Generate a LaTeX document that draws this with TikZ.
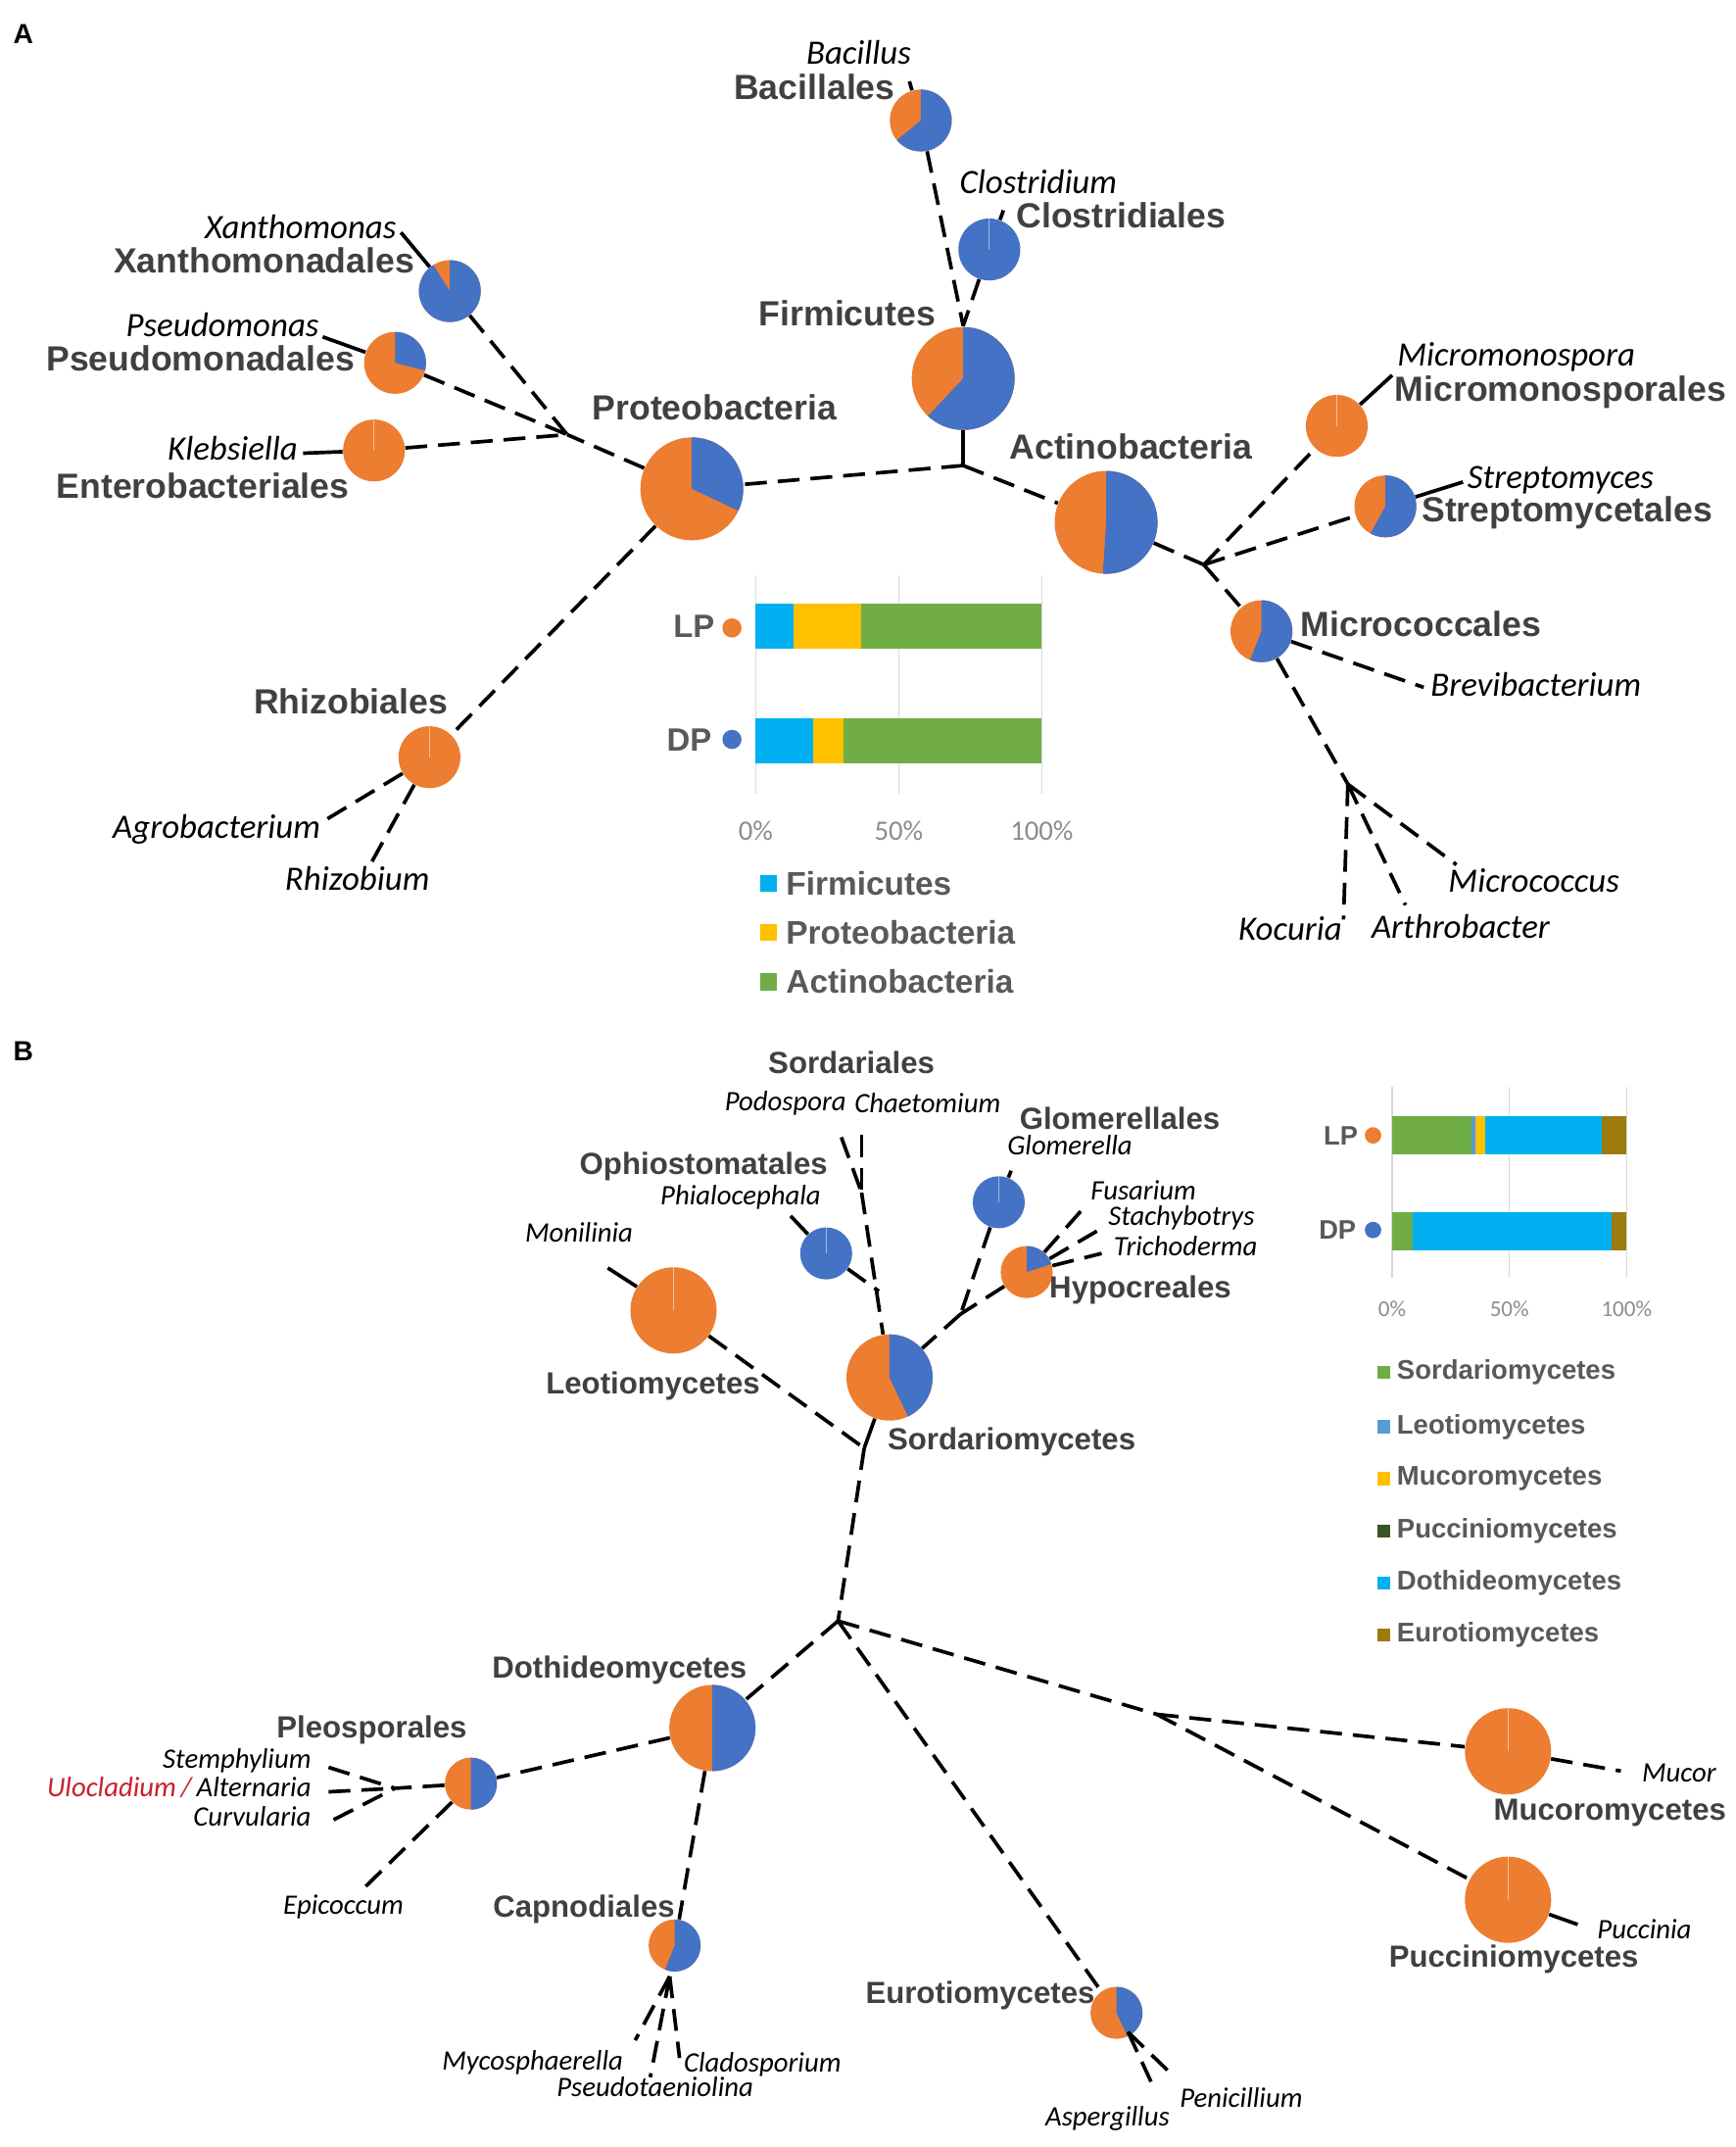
\documentclass[tikz,border=0pt]{standalone}
\usepackage{fontspec}
\setmainfont{Liberation Sans}
\newfontfamily\genusfont{Carlito}
\usetikzlibrary{positioning}

\definecolor{pieorange}{HTML}{ED7D31}
\definecolor{pieblue}{HTML}{4472C4}
\definecolor{labgray}{HTML}{404040}
\definecolor{leggray}{HTML}{595959}
\definecolor{tickgray}{HTML}{8C8C8C}
\definecolor{gridgray}{HTML}{D9D9D9}
\definecolor{firmcol}{HTML}{00B0F0}
\definecolor{protcol}{HTML}{FFC000}
\definecolor{actcol}{HTML}{70AD47}
\definecolor{leocol}{HTML}{5B9BD5}
\definecolor{puccol}{HTML}{375623}
\definecolor{eurcol}{HTML}{9C7A0C}
\definecolor{ulored}{HTML}{C8202A}

% blue share of a pie, clockwise from 12 o'clock
\newcommand{\bluewedge}[3]{\fill[pieblue] (#1.center) -- ++(90:#2) arc[start angle=90, delta angle=-3.6*#3, radius=#2] -- cycle;}

\begin{document}
\begin{tikzpicture}[x=0.2mm, y=-0.2mm,
	bigpie/.style={circle, inner sep=0pt, fill=pieorange, minimum size=15.04mm},
	smallpie/.style={circle, inner sep=0pt, fill=pieorange, minimum size=9.04mm},
	bigpieb/.style={circle, inner sep=0pt, fill=pieorange, minimum size=12.6mm},
	smallpieb/.style={circle, inner sep=0pt, fill=pieorange, minimum size=7.6mm},
	allblue/.style={fill=pieblue},
	seam/.style={draw=white, line width=0.5pt, opacity=.5},
	branch/.style={line width=1.5pt, dash pattern=on 3.2mm off 1.6mm},
	stub/.style={line width=1.5pt},
	panel/.style={inner sep=0pt, font=\fontsize{11.5}{13}\selectfont\bfseries},
	ordA/.style={inner sep=0pt, text=labgray, text height=10.6pt, text depth=2.6pt, font=\fontsize{14.5}{17}\selectfont\bfseries},
	genA/.style={inner sep=0pt, text height=10pt, text depth=2.6pt, font=\genusfont\itshape\fontsize{14.2}{17}\selectfont},
	ordB/.style={inner sep=0pt, text=labgray, text height=9.3pt, text depth=2.5pt, font=\fontsize{12.7}{15}\selectfont\bfseries},
	genB/.style={inner sep=0pt, text height=8.3pt, text depth=2.3pt, font=\genusfont\itshape\fontsize{11.7}{14}\selectfont},
	grid/.style={draw=gridgray, line width=0.6pt},
	dot/.style={circle, inner sep=0pt},
	lpA/.style={inner sep=0pt, text=leggray, font=\fontsize{13.4}{16}\selectfont\bfseries},
	lpB/.style={inner sep=0pt, text=leggray, font=\fontsize{11.1}{13}\selectfont\bfseries},
	tickA/.style={inner sep=0pt, text=tickgray, font=\genusfont\fontsize{11.7}{14}\selectfont},
	tickB/.style={inner sep=0pt, text=tickgray, font=\genusfont\fontsize{9.4}{11}\selectfont},
	legsqA/.style={inner sep=0pt, minimum size=2.5mm},
	legsqB/.style={inner sep=0pt, minimum size=1.9mm},
	legA/.style={inner sep=0pt, text=leggray, font=\fontsize{13.6}{16}\selectfont\bfseries},
	legB/.style={inner sep=0pt, text=leggray, font=\fontsize{11.2}{13}\selectfont\bfseries}]

\useasboundingbox (0,0) rectangle (1268,1568);

%-------------------------------------------------------------------------------
% A - Bacteria
%-------------------------------------------------------------------------------
\node (panela) [panel] at (17,25) {A};

% Firmicutes
\node (firm) [bigpie] at (703.6,276.4) {};
\bluewedge{firm}{7.52mm}{62}
\node (firmlab) [ordA] at (619,231) {Firmicutes};

\node (bac) [smallpie] at (672.6,88) {};
\bluewedge{bac}{4.52mm}{64}
\node (baclab) [ordA] at (595,65.3) {Bacillales};
\node (bacgen) [genA] at (627.3,40.3) {Bacillus};

\node (clos) [smallpie,allblue] at (722.7,182.2) {};
\draw [seam] (clos.center) -- (clos.north);
\node (closlab) [ordA] at (819,159.6) {Clostridiales};
\node (closgen) [genA] at (758.5,134.5) {Clostridium};

\coordinate (jfirm)  at (703.6,238);
\coordinate (jroot)  at (703.6,340);
\coordinate (bacend) at (664.3,59.4);
\coordinate (closend) at (733,153.6);
\draw [stub] (bac) -- (bacend);
\draw [stub] (clos) -- (closend);
\draw [branch] (bac) -- (jfirm);
\draw [branch] (clos) -- (jfirm);
\draw [stub] (firm) -- (jroot);

% Proteobacteria
\node (proteo) [bigpie] at (505.4,357) {};
\bluewedge{proteo}{7.52mm}{32}
\node (proteolab) [ordA] at (522,299.5) {Proteobacteria};

\node (xanth) [smallpie] at (328.6,212.6) {};
\bluewedge{xanth}{4.52mm}{91}
\node (xanthlab) [ordA] at (192.9,192) {Xanthomonadales};
\node (xanthgen) [genA] at (219.6,167.5) {Xanthomonas};

\node (pseudo) [smallpie] at (288.6,265) {};
\bluewedge{pseudo}{4.52mm}{29}
\node (pseudolab) [ordA] at (146.4,263.5) {Pseudomonadales};
\node (pseudogen) [genA] at (162.5,239.5) {Pseudomonas};

\node (entero) [smallpie] at (273.2,329) {};
\draw [seam] (entero.center) -- (entero.north);
\node (enterolab) [ordA] at (148.2,357) {Enterobacteriales};
\node (enterogen) [genA] at (170,329.5) {Klebsiella};

\node (rhizo) [smallpie] at (313.7,553) {};
\draw [seam] (rhizo.center) -- (rhizo.north);
\node (rhizolab) [ordA] at (256.3,514.5) {Rhizobiales};
\node (agrogen) [genA] at (158.2,606) {Agrobacterium};
\node (rhizogen) [genA] at (261,644) {Rhizobium};

\coordinate (jprot)     at (414.3,317.4);
\coordinate (xanthend)  at (292.9,169.8);
\coordinate (pseudoend) at (235.7,246);
\coordinate (kleend)    at (221.4,331);
\coordinate (agroend)   at (232.4,602.1);
\coordinate (rhizobend) at (268.2,635.6);
\draw [branch] (jroot) -- (proteo);
\draw [branch] (proteo) -- (jprot);
\draw [branch] (xanth) -- (jprot);
\draw [branch] (pseudo) -- (jprot);
\draw [branch] (entero) -- (jprot);
\draw [stub] (xanth) -- (xanthend);
\draw [stub] (pseudo) -- (pseudoend);
\draw [stub] (entero) -- (kleend);
\draw [branch] (proteo) -- (rhizo);
\draw [branch] (rhizo) -- (agroend);
\draw [branch] (rhizo) -- (rhizobend);

% Actinobacteria
\node (actino) [bigpie] at (808,381.5) {};
\bluewedge{actino}{7.52mm}{51}
\node (actinolab) [ordA] at (826,328.6) {Actinobacteria};

\node (micromono) [smallpie] at (976.5,311) {};
\draw [seam] (micromono.center) -- (micromono.north);
\node (micromonolab) [ordA] at (1140,286) {Micromonosporales};
\node (micromonogen) [genA] at (1107.6,261) {Micromonospora};

\node (strepto) [smallpie] at (1012,369.8) {};
\bluewedge{strepto}{4.52mm}{58}
\node (streptolab) [ordA] at (1144.8,374) {Streptomycetales};
\node (streptogen) [genA] at (1140,350.6) {Streptomyces};

\node (micrococ) [smallpie] at (921.5,461) {};
\bluewedge{micrococ}{4.52mm}{56}
\node (micrococlab) [ordA] at (1038,458) {Micrococcales};
\node (brevigen) [genA] at (1122,502) {Brevibacterium};
\node (micrococcusgen) [genA] at (1120.5,645) {Micrococcus};
\node (arthrogen) [genA] at (1067,678.6) {Arthrobacter};
\node (kocuriagen) [genA] at (942.5,680) {Kocuria};

\coordinate (jact)    at (879.4,412.4);
\coordinate (jmic)    at (984.6,572.7);
\coordinate (micromonoend) at (1017,274);
\coordinate (streptoend)   at (1068.7,352);
\coordinate (brevend)  at (1040,502);
\coordinate (kocend)   at (981.4,671.5);
\coordinate (arthend)  at (1026.7,661);
\coordinate (mcocend)  at (1063.9,631.5);
\draw [branch] (jroot) -- (actino);
\draw [branch] (actino) -- (jact);
\draw [branch] (jact) -- (micromono);
\draw [branch] (jact) -- (strepto);
\draw [branch] (jact) -- (micrococ);
\draw [stub] (micromono) -- (micromonoend);
\draw [stub] (strepto) -- (streptoend);
\draw [branch] (micrococ) -- (brevend);
\draw [branch] (micrococ) -- (jmic);
\draw [branch] (jmic) -- (kocend);
\draw [branch] (jmic) -- (arthend);
\draw [branch] (jmic) -- (mcocend);

% bar chart A
\draw [grid] (552,420) -- (552,580);
\draw [grid] (656.5,420) -- (656.5,580);
\draw [grid] (761,420) -- (761,580);
\fill [firmcol] (552,440.5) rectangle (579.4,474);
\fill [protcol] (579.4,440.5) rectangle (629.2,474);
\fill [actcol] (629.2,440.5) rectangle (761,474);
\fill [firmcol] (552,524.8) rectangle (594.3,557.8);
\fill [protcol] (594.3,524.8) rectangle (616.2,557.8);
\fill [actcol] (616.2,524.8) rectangle (761,557.8);
\node (lpa) [lpA] at (506.9,457.3) {LP};
\node (lpdota) [dot, fill=pieorange, minimum size=2.8mm] at (534.7,458.6) {};
\node (dpa) [lpA] at (503.4,540.5) {DP};
\node (dpdota) [dot, fill=pieblue, minimum size=2.8mm] at (534.7,540) {};
\node (ticka0) [tickA] at (552,607) {0\%};
\node (ticka50) [tickA] at (656.5,607) {50\%};
\node (ticka100) [tickA] at (761,607) {100\%};
\node (sqfirm) [legsqA, fill=firmcol] at (561.3,645) {};
\node (legfirm) [legA, right=1.2mm of sqfirm] {Firmicutes};
\node (sqprot) [legsqA, fill=protcol] at (561.3,681) {};
\node (legprot) [legA, right=1.2mm of sqprot] {Proteobacteria};
\node (sqact) [legsqA, fill=actcol] at (561.3,717) {};
\node (legact) [legA, right=1.2mm of sqact] {Actinobacteria};

%-------------------------------------------------------------------------------
% B - Fungi
%-------------------------------------------------------------------------------
\node (panelb) [panel] at (17,768) {B};

% Sordariomycetes and Leotiomycetes
\node (sordario) [bigpieb] at (649.8,1006) {};
\bluewedge{sordario}{6.3mm}{43}
\node (sordariolab) [ordB] at (739,1053) {Sordariomycetes};

\node (leotio) [bigpieb] at (492,957) {};
\draw [seam] (leotio.center) -- (leotio.north);
\node (leotiolab) [ordB] at (477,1012) {Leotiomycetes};
\node (monilgen) [genB] at (423,902) {Monilinia};

\node (sordarialeslab) [ordB] at (622,778) {Sordariales};
\node (podogen) [genB] at (573.8,806) {Podospora};
\node (chaetogen) [genB] at (677.6,807) {Chaetomium};

\node (ophio) [smallpieb,allblue] at (603.5,915.4) {};
\draw [seam] (ophio.center) -- (ophio.north);
\node (ophiolab) [ordB] at (514,852) {Ophiostomatales};
\node (phialgen) [genB] at (541,874.8) {Phialocephala};

\node (glom) [smallpieb,allblue] at (729.6,878) {};
\draw [seam] (glom.center) -- (glom.north);
\node (glomlab) [ordB] at (818,818.6) {Glomerellales};
\node (glomgen) [genB] at (781.5,838) {Glomerella};

\node (hypo) [smallpieb] at (750,929) {};
\bluewedge{hypo}{3.8mm}{20}
\node (hypolab) [ordB] at (833,941.7) {Hypocreales};
\node (fusgen) [genB] at (835.3,871) {Fusarium};
\node (stachgen) [genB] at (863,890) {Stachybotrys};
\node (trichgen) [genB] at (866,912) {Trichoderma};

\coordinate (podoend)   at (614.6,830.6);
\coordinate (chaetoend) at (629.4,829);
\coordinate (jsord)     at (629.4,871);
\coordinate (jophio)    at (642,943);
\coordinate (phialend)  at (577.5,888);
\coordinate (monilend)  at (444,926);
\coordinate (glomend)   at (738.6,855);
\coordinate (jglom)     at (701.8,959.6);
\coordinate (fusend)    at (791.8,882);
\coordinate (stachend)  at (806.6,896);
\coordinate (trichend)  at (804.8,915.4);
\coordinate (jleo)      at (631.3,1057.6);
\draw [branch] (podoend) -- (jsord);
\draw [branch] (chaetoend) -- (jsord);
\draw [branch] (jsord) -- (sordario);
\draw [branch] (ophio) -- (jophio);
\draw [stub] (ophio) -- (phialend);
\draw [stub] (leotio) -- (monilend);
\draw [stub] (glom) -- (glomend);
\draw [branch] (glom) -- (jglom);
\draw [branch] (hypo) -- (jglom);
\draw [branch] (jglom) -- (sordario);
\draw [branch] (hypo) -- (fusend);
\draw [branch] (hypo) -- (stachend);
\draw [branch] (hypo) -- (trichend);
\draw [branch] (leotio) -- (jleo);
\draw [stub] (sordario) -- (jleo);

% Dothideomycetes
\node (dothi) [bigpieb] at (520.4,1262) {};
\bluewedge{dothi}{6.3mm}{50}
\node (dothilab) [ordB] at (452.5,1219.5) {Dothideomycetes};

\node (pleo) [smallpieb] at (344,1302.6) {};
\bluewedge{pleo}{3.8mm}{50}
\node (pleolab) [ordB] at (271.5,1263.5) {Pleosporales};
\node (stemgen) [genB, anchor=east] at (227.6,1286) {Stemphylium};
\node (altgen) [genB, anchor=east] at (227.6,1307) {{\color{ulored}Ulocladium\,/}\,Alternaria};
\node (curvgen) [genB, anchor=east] at (227.6,1328) {Curvularia};
\node (epicgen) [genB] at (250.9,1393) {Epicoccum};

\node (capno) [smallpieb] at (492.8,1420.8) {};
\bluewedge{capno}{3.8mm}{56}
\node (capnolab) [ordB] at (426.5,1394) {Capnodiales};
\node (mycogen) [genB] at (389,1506.7) {Mycosphaerella};
\node (pseudotgen) [genB] at (478.5,1525.8) {Pseudotaeniolina};
\node (cladogen) [genB] at (557,1508) {Cladosporium};

\coordinate (jmain)   at (612.2,1183.8);
\coordinate (jpleo)   at (288.5,1306);
\coordinate (stemend) at (240,1290.7);
\coordinate (altend)  at (240,1308.6);
\coordinate (curvend) at (243.7,1329);
\coordinate (epicend) at (267,1377.8);
\coordinate (jcapno)  at (489.2,1443.4);
\coordinate (mycoend) at (464,1490);
\coordinate (pseudotend) at (475,1517);
\coordinate (cladoend) at (496.4,1503);
\draw [branch] (jleo) -- (jmain);
\draw [branch] (jmain) -- (dothi);
\draw [branch] (dothi) -- (pleo);
\draw [branch] (dothi) -- (capno);
\draw [branch] (pleo) -- (jpleo);
\draw [branch] (stemend) -- (jpleo);
\draw [branch] (altend) -- (jpleo);
\draw [branch] (curvend) -- (jpleo);
\draw [branch] (pleo) -- (epicend);
\draw [branch] (jcapno) -- (mycoend);
\draw [branch] (jcapno) -- (pseudotend);
\draw [branch] (jcapno) -- (cladoend);

% Eurotiomycetes, Mucoromycetes, Pucciniomycetes
\node (euro) [smallpieb] at (815.6,1470) {};
\bluewedge{euro}{3.8mm}{43}
\node (eurolab) [ordB] at (716,1457) {Eurotiomycetes};
\node (aspgen) [genB] at (809,1547) {Aspergillus};
\node (pengen) [genB] at (906.7,1534) {Penicillium};

\node (muco) [bigpieb] at (1101.6,1279) {};
\draw [seam] (muco.center) -- (muco.north);
\node (mucolab) [ordB] at (1176,1323) {Mucoromycetes};
\node (mucorgen) [genB] at (1226.6,1296) {Mucor};

\node (pucci) [bigpieb] at (1101.6,1387.4) {};
\draw [seam] (pucci.center) -- (pucci.north);
\node (puccilab) [ordB] at (1105.8,1431) {Pucciniomycetes};
\node (puccgen) [genB] at (1201.2,1410.6) {Puccinia};

\coordinate (jmuco)    at (845,1252);
\coordinate (jeuro)    at (824,1484);
\coordinate (aspend)   at (843,1525);
\coordinate (penend)   at (856,1515);
\coordinate (mucorend) at (1184,1293.4);
\coordinate (puccend)  at (1152.5,1405.5);
\draw [branch] (jmain) -- (euro);
\draw [branch] (jmain) -- (jmuco);
\draw [branch] (jmuco) -- (muco);
\draw [branch] (jmuco) -- (pucci);
\draw [branch] (muco) -- (mucorend);
\draw [stub] (pucci) -- (puccend);
\draw [branch] (jeuro) -- (aspend);
\draw [branch] (jeuro) -- (penend);

% bar chart B
\draw [grid] (1017,794) -- (1017,933.5);
\draw [grid] (1102.6,794) -- (1102.6,933.5);
\draw [grid] (1188.2,794) -- (1188.2,933.5);
\fill [actcol] (1017,815.2) rectangle (1075,842.8);
\fill [leocol] (1075,815.2) rectangle (1078,842.8);
\fill [protcol] (1078,815.2) rectangle (1085,842.8);
\fill [firmcol] (1085,815.2) rectangle (1170,842.8);
\fill [eurcol] (1170,815.2) rectangle (1188.2,842.8);
\fill [actcol] (1017,885) rectangle (1032,913.2);
\fill [firmcol] (1032,885) rectangle (1177.5,913.2);
\fill [eurcol] (1177.5,885) rectangle (1188.2,913.2);
\node (lpb) [lpB] at (979.4,829.2) {LP};
\node (lpdotb) [dot, fill=pieorange, minimum size=2.4mm] at (1003,829.2) {};
\node (dpb) [lpB] at (977,898.3) {DP};
\node (dpdotb) [dot, fill=pieblue, minimum size=2.4mm] at (1003,898.3) {};
\node (tickb0) [tickB] at (1017,956) {0\%};
\node (tickb50) [tickB] at (1102.6,956) {50\%};
\node (tickb100) [tickB] at (1188.2,956) {100\%};
\node (sqsord) [legsqB, fill=actcol] at (1011,1002.5) {};
\node (legsord) [legB, right=0.8mm of sqsord] {Sordariomycetes};
\node (sqleo) [legsqB, fill=leocol] at (1011,1042) {};
\node (legleo) [legB, right=0.8mm of sqleo] {Leotiomycetes};
\node (sqmuc) [legsqB, fill=protcol] at (1011,1080) {};
\node (legmuc) [legB, right=0.8mm of sqmuc] {Mucoromycetes};
\node (sqpuc) [legsqB, fill=puccol] at (1011,1118) {};
\node (legpuc) [legB, right=0.8mm of sqpuc] {Pucciniomycetes};
\node (sqdot) [legsqB, fill=firmcol] at (1011,1156) {};
\node (legdot) [legB, right=0.8mm of sqdot] {Dothideomycetes};
\node (sqeur) [legsqB, fill=eurcol] at (1011,1194) {};
\node (legeur) [legB, right=0.8mm of sqeur] {Eurotiomycetes};
\end{tikzpicture}
\end{document}
